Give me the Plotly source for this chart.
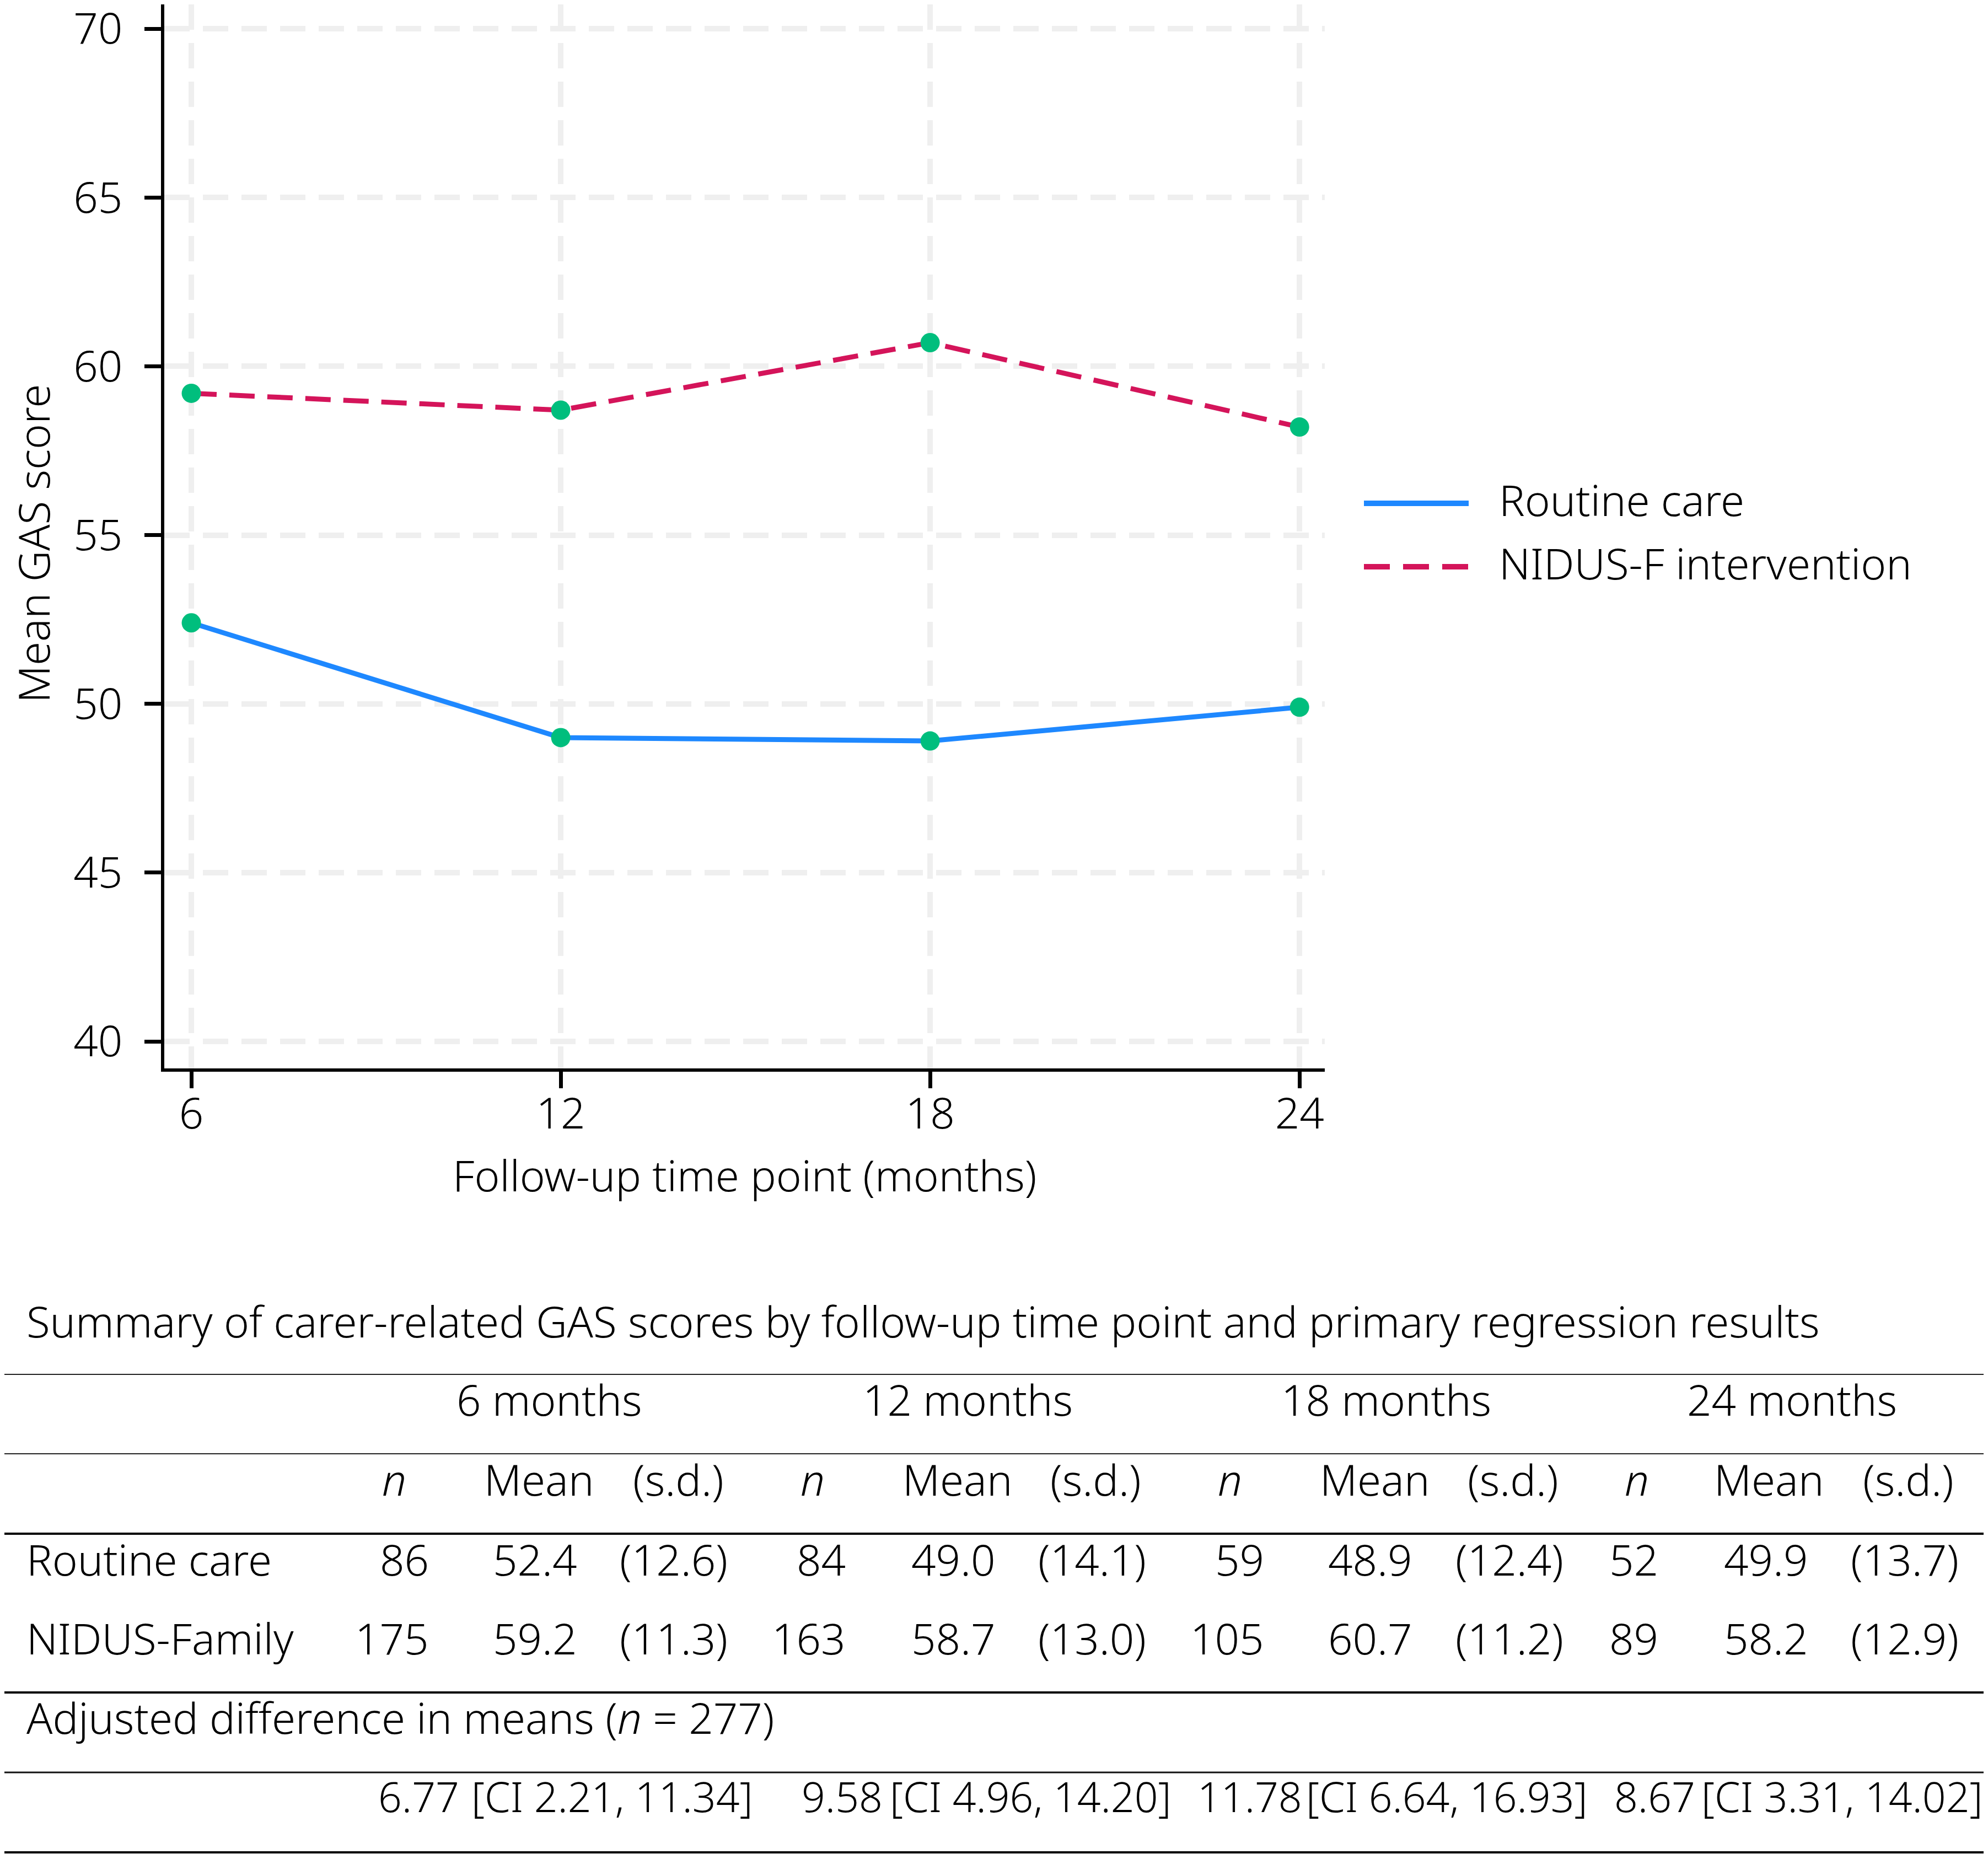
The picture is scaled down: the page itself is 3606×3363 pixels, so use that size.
import plotly.graph_objects as go

# GAS scores by follow-up time point
months = [6, 12, 18, 24]
month_labels = ["6 months", "12 months", "18 months", "24 months"]
routine_n = [86, 84, 59, 52]
routine_mean = [52.4, 49.0, 48.9, 49.9]
routine_sd = [12.6, 14.1, 12.4, 13.7]
nidus_n = [175, 163, 105, 89]
nidus_mean = [59.2, 58.7, 60.7, 58.2]
nidus_sd = [11.3, 13.0, 11.2, 12.9]
adj_diff = [6.77, 9.58, 11.78, 8.67]
ci_low = [2.21, 4.96, 6.64, 3.31]
ci_high = [11.34, 14.20, 16.93, 14.02]
n_total = 277
y_ticks = [40, 45, 50, 55, 60, 65, 70]

W, H = 3606, 3363
OFF = 8  # default body margin of the html page
FW, FH = W - OFF, H - OFF
FONT = "Noto Sans"
WEIGHT = 300
FS = 78
TXT_DY = -3
BLUE = "#1E88FF"
RED = "#D4145A"
GREEN = "#00BE7D"
GRID = "#EFEFEF"


def px(x):
    return (x - OFF) / FW


def py(y):
    return 1 - (y - OFF) / FH


fig = go.Figure()
fig.add_trace(go.Scatter(x=months, y=routine_mean, mode="lines+markers", name="Routine care",
                         line=dict(color=BLUE, width=9),
                         marker=dict(color=GREEN, size=35), showlegend=False))
fig.add_trace(go.Scatter(x=months, y=nidus_mean, mode="lines+markers", name="NIDUS-F intervention",
                         line=dict(color=RED, width=9, dash="46px,23px"),
                         marker=dict(color=GREEN, size=35), showlegend=False))

axis_common = dict(
    showline=True, linecolor="black", linewidth=6,
    ticks="outside", ticklen=30, tickwidth=7, tickcolor="black",
    showgrid=True, gridcolor=GRID, gridwidth=10, griddash="46px,24px",
    zeroline=False, ticklabeloverflow="allow", automargin=False,
    tickfont=dict(family=FONT, size=78, color="black", weight=WEIGHT),
)

fig.update_layout(
    width=FW, height=FH,
    margin=dict(l=0, r=0, t=0, b=0),
    paper_bgcolor="white", plot_bgcolor="white",
    font=dict(family=FONT, size=FS, color="black", weight=WEIGHT),
    xaxis=dict(domain=[px(298), px(2403)], range=[5.561, 24.41],
               tickvals=months, ticktext=[str(m) for m in months], ticklabelstandoff=-21,
               **axis_common),
    yaxis=dict(domain=[py(1938), 1.0], range=[39.2, 70.72],
               tickvals=y_ticks, ticklabelstandoff=24,
               **axis_common),
)

shapes = []
annos = []

# legend drawn by hand so the line samples have the reference length
shapes.append(dict(type="line", xref="paper", yref="paper", x0=px(2474), x1=px(2664),
                   y0=py(913), y1=py(913), line=dict(color=BLUE, width=10)))
shapes.append(dict(type="line", xref="paper", yref="paper", x0=px(2474), x1=px(2664),
                   y0=py(1028), y1=py(1028), line=dict(color=RED, width=10, dash="47px,24px")))


def txt(x, y, text, anchor="left", size=FS, angle=0):
    annos.append(dict(xref="paper", yref="paper", x=px(x), y=py(y + TXT_DY), text=text,
                      showarrow=False, xanchor=anchor, yanchor="middle", textangle=angle,
                      font=dict(family=FONT, size=size, color="black", weight=WEIGHT)))


# axis titles
txt(1350, 2134, "Follow-up time point (months)", "center")
txt(60, 989, "Mean GAS score", "center", angle=-90)

txt(2717, 909, "Routine care")
txt(2717, 1024, "NIDUS-F intervention")

# table
for y, w, c in [(2493, 2, "#222222"), (2637, 2, "#222222"), (2782, 4, "black"),
                (3070, 4, "black"), (3215, 3, "#111111"), (3360, 4, "black")]:
    shapes.append(dict(type="line", xref="paper", yref="paper", x0=px(4), x1=1,
                       y0=py(y), y1=py(y), line=dict(color=c, width=w)))

n_right = [780, 1536, 2295, 3010]
n_head = [715, 1474, 2231, 2969]
mean_right = [1049, 1808, 2564, 3282]
mean_head = [977, 1736, 2493, 3208]
sd_right = [1322, 2081, 2838, 3555]
sd_head = [1230, 1987, 2744, 3461]
group_center = [996, 1755, 2514, 3250]
est_right = [835, 1603, 2364, 3077]
ci_right = [1368, 2127, 2882, 3599]

row_y = dict(title=2399, group=2541, sub=2686, routine=2831, nidus=2974, adj=3118, ci=3261)

txt(46, row_y["title"], "Summary of carer-related GAS scores by follow-up time point and primary regression results")
txt(46, row_y["routine"], "Routine care")
txt(46, row_y["nidus"], "NIDUS-Family")
txt(46, row_y["adj"], "Adjusted difference in means (<i>n</i> = %d)" % n_total)

for i in range(len(months)):
    txt(group_center[i], row_y["group"], month_labels[i], "center")
    txt(n_head[i], row_y["sub"], "<i>n</i>", "center")
    txt(mean_head[i], row_y["sub"], "Mean", "center")
    txt(sd_head[i], row_y["sub"], "(s.d.)", "center")
    txt(n_right[i], row_y["routine"], str(routine_n[i]), "right")
    txt(mean_right[i], row_y["routine"], "%.1f" % routine_mean[i], "right")
    txt(sd_right[i], row_y["routine"], "(%.1f)" % routine_sd[i], "right")
    txt(n_right[i], row_y["nidus"], str(nidus_n[i]), "right")
    txt(mean_right[i], row_y["nidus"], "%.1f" % nidus_mean[i], "right")
    txt(sd_right[i], row_y["nidus"], "(%.1f)" % nidus_sd[i], "right")
    txt(est_right[i], row_y["ci"], "%.2f" % adj_diff[i], "right", size=75)
    txt(ci_right[i], row_y["ci"], "[CI %.2f, %.2f]" % (ci_low[i], ci_high[i]), "right", size=75)

fig.update_layout(shapes=shapes, annotations=annos)
fig.write_html("out.html")
